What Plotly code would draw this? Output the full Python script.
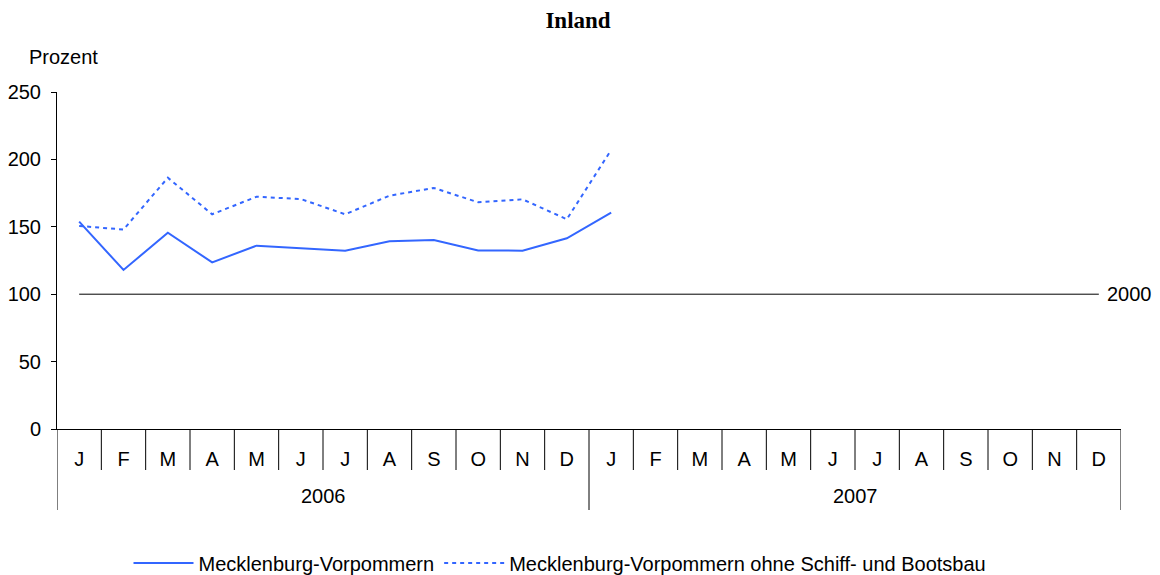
import plotly.graph_objects as go

months = ["J", "F", "M", "A", "M", "J", "J", "A", "S", "O", "N", "D"]
years = ["2006", "2007"]
mv = [153.8, 118.0, 145.6, 123.6, 136.0, 134.0, 132.3, 139.2, 140.2, 132.5, 132.3, 141.5, 160.5]
mv_ohne = [150.6, 148.0, 186.4, 159.3, 172.3, 170.6, 159.3, 173.1, 178.8, 168.2, 170.4, 155.6, 207.0]
base_value = 100
base_label = "2000"

n = len(months) * len(years)
x_all = list(range(n))
tick_text = months * len(years)
blue = "#3366FF"
font = "Liberation Sans, Arial, sans-serif"
FS = 20

# plot area geometry (pixels)
L, R, T, B = 57, 1121, 92, 429
PW, PH = R - L, B - T

fig = go.Figure()
fig.add_trace(go.Scatter(x=x_all, y=[base_value] * n, mode="lines",
                         line=dict(color="black", width=1), showlegend=False, hoverinfo="skip"))
fig.add_trace(go.Scatter(x=x_all[:len(mv)], y=mv, mode="lines", name="Mecklenburg-Vorpommern",
                         line=dict(color=blue, width=2)))
fig.add_trace(go.Scatter(x=x_all[:len(mv_ohne)], y=mv_ohne, mode="lines",
                         name="Mecklenburg-Vorpommern ohne Schiff- und Bootsbau",
                         line=dict(color=blue, width=2, dash="4px,4px")))

shapes = []
for i in range(n + 1):
    is_year = (i % len(months) == 0)
    shapes.append(dict(type="line", xref="x", yref="paper", x0=i - 0.5, x1=i - 0.5,
                       y0=0, y1=(-81 / PH) if is_year else (-41 / PH),
                       line=dict(color="black", width=1)))

annotations = []
for k, yr in enumerate(years):
    annotations.append(dict(x=k * len(months) + (len(months) - 1) / 2, y=-67 / PH, xref="x", yref="paper",
                            text=yr, showarrow=False, font=dict(family=font, size=FS, color="black"),
                            yanchor="middle"))
annotations.append(dict(x=n - 1, y=base_value, xref="x", yref="y", text=base_label, showarrow=False,
                        xanchor="left", xshift=6, font=dict(family=font, size=FS, color="black")))
annotations.append(dict(x=(27 - L) / PW, y=(B - 57) / PH, xref="paper", yref="paper", text="Prozent",
                        showarrow=False, xanchor="left", yanchor="middle",
                        font=dict(family=font, size=FS, color="black")))

fig.update_layout(
    width=1160, height=575,
    paper_bgcolor="white", plot_bgcolor="white",
    margin=dict(l=L, r=1160 - R, t=T, b=575 - B),
    title=dict(text="<b>Inland</b>", x=578 / 1160, xanchor="center", y=1 - 20 / 575, yanchor="middle",
               font=dict(family="Liberation Serif, Times New Roman, serif", size=23, color="black")),
    font=dict(family=font, size=FS, color="black"),
    xaxis=dict(range=[-0.5, n - 0.5], tickmode="array", tickvals=x_all, ticktext=tick_text,
               showgrid=False, zeroline=False, showline=True, linecolor="black", linewidth=1,
               ticks="", ticklabelstandoff=12, tickfont=dict(size=FS), automargin=False),
    yaxis=dict(range=[0, 250], tickvals=[0, 50, 100, 150, 200, 250], showgrid=False, zeroline=False,
               showline=True, linecolor="black", linewidth=1, ticks="outside", ticklen=5,
               tickcolor="black", tickfont=dict(size=FS), ticklabelstandoff=6, automargin=False),
    legend=dict(orientation="h", xref="container", yref="container",
                x=560 / 1160, xanchor="center", y=(575 - 563) / 575, yanchor="middle",
                font=dict(family=font, size=FS), itemwidth=60, tracegroupgap=0),
    shapes=shapes, annotations=annotations,
)

fig.write_html("out.html", config={"displayModeBar": False},
               post_script="document.body.style.margin='0';document.documentElement.style.overflow='hidden';")
